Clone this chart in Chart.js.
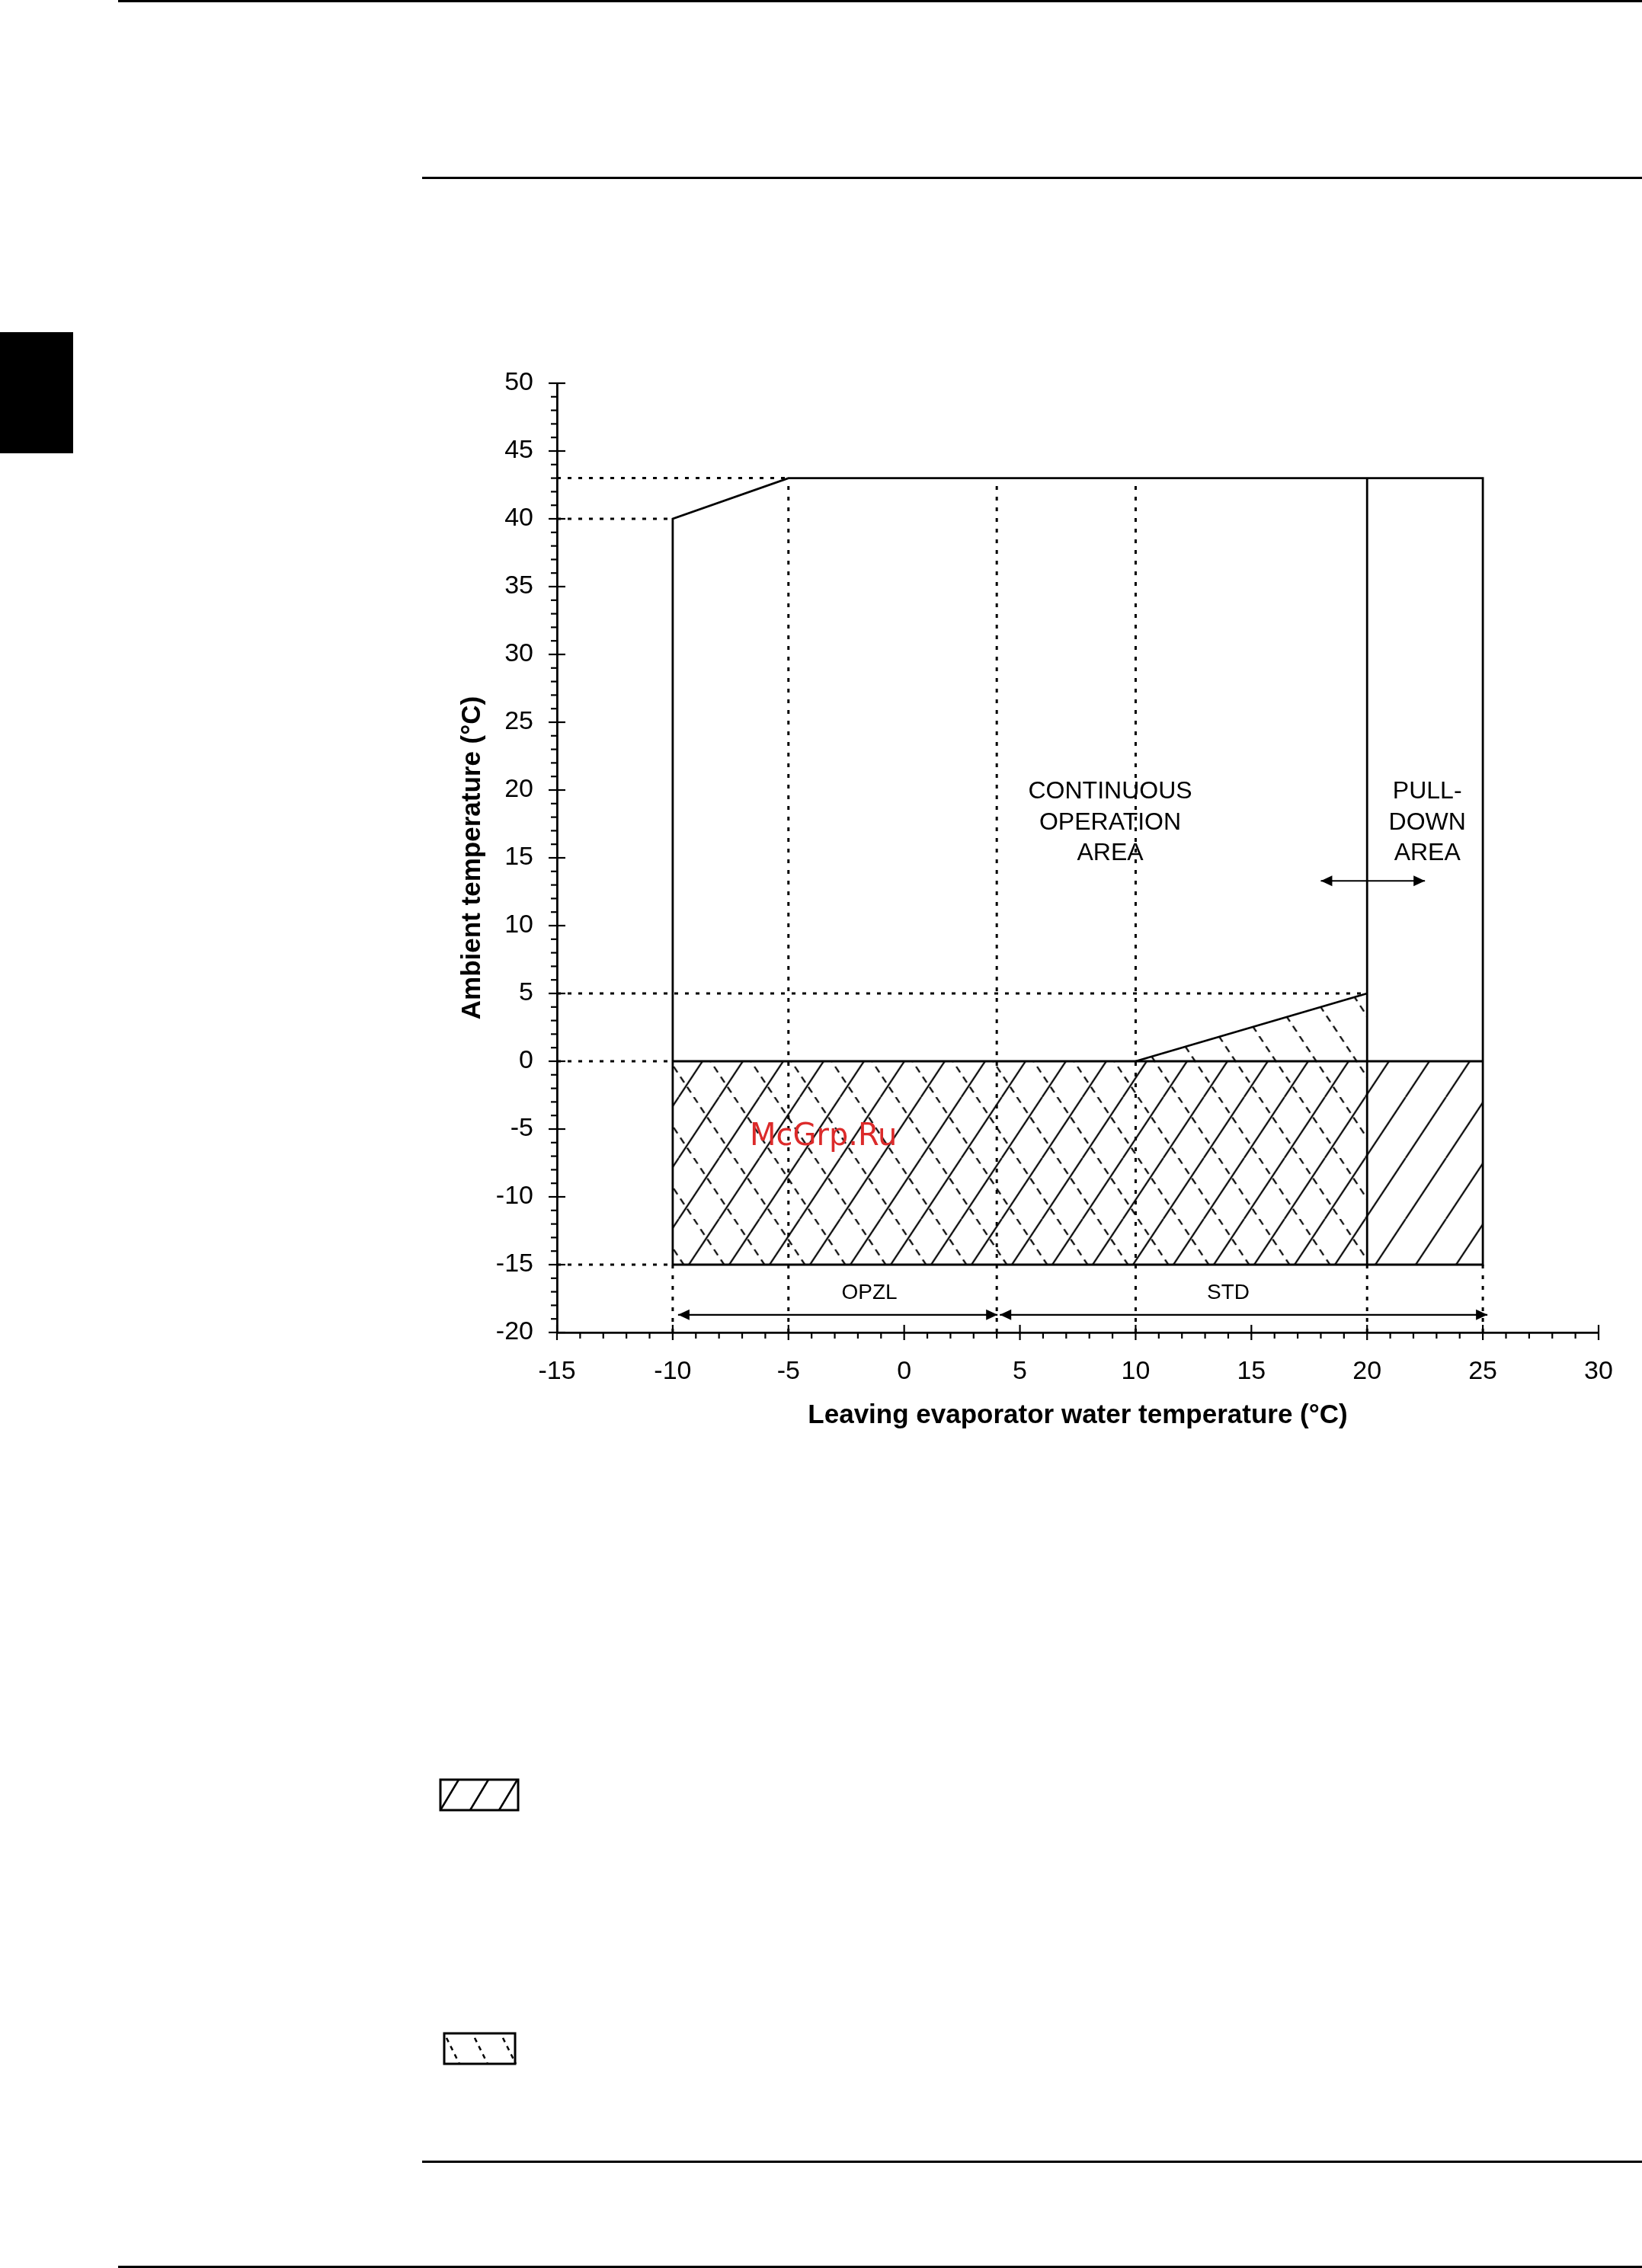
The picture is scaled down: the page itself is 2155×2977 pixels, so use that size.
<!DOCTYPE html>
<html>
<head>
<meta charset="utf-8">
<title>Operating limits</title>
<script src="https://cdn.jsdelivr.net/npm/chart.js@4.4.0/dist/chart.umd.min.js"></script>
<style>
    html, body { margin: 0; padding: 0; background: #fff; }
    body { width: 2155px; height: 2977px; position: relative; overflow: hidden; }
    #chart { position: absolute; left: 0; top: 0; }
    .rule { position: absolute; background: #000; }
</style>
</head>
<body>
<div class="rule" style="left:155px;top:0;width:2000px;height:3px"></div>
<div class="rule" style="left:554px;top:232px;width:1601px;height:3px"></div>
<div class="rule" style="left:0;top:436px;width:96px;height:159px"></div>
<div class="rule" style="left:554px;top:2836px;width:1601px;height:3px"></div>
<div class="rule" style="left:155px;top:2974px;width:2000px;height:3px"></div>
<canvas id="chart" width="2155" height="2977"></canvas>
<script>
const xTickValues = [-15, -10, -5, 0, 5, 10, 15, 20, 25, 30];
const yTickValues = [-20, -15, -10, -5, 0, 5, 10, 15, 20, 25, 30, 35, 40, 45, 50];

// operating envelope
const envelopeX = [-10, -10, -5, 25, 25, -10];
const envelopeY = [-15, 40, 43, 43, -15, -15];
const zeroLineX = [-10, 25];
const zeroLineY = [0, 0];
const pullDownX = [20, 20];
const pullDownY = [-15, 43];
const rampX = [10, 20];
const rampY = [0, 5];

// dotted guides
const guideHY = [43, 40, 5, 0, -15];
const guideHTo = [-5, -10, 20, -10, -10];
const guideVX = [-10, -5, 4, 10, 20, 25];
const guideVTo = [-15, 43, 43, 43, -15, -15];

// hatched zones, filled down to zoneFloor
const solidZoneX = [-10, 25];
const solidZoneY = [0, 0];
const dashedZoneX = [-10, 10, 20];
const dashedZoneY = [0, 0, 5];
const zoneFloor = -15;

// texts
const areaNames = [['CONTINUOUS', 'OPERATION', 'AREA'], ['PULL-', 'DOWN', 'AREA']];
const areaNameX = [8.9, 22.6];
const areaLineY = [19.9, 17.6, 15.3];
const rangeNames = ['OPZL', 'STD'];
const rangeFrom = [-10, 4];
const rangeTo = [4, 25];
const rangeNameX = [-1.5, 14];
const rangeNameY = -17.1;
const rangeArrowY = -18.7;
const pullArrowX = [18, 22.5];
const pullArrowY = 13.3;

const FONT = "'Liberation Sans', Arial, sans-serif";
const canvas = document.getElementById('chart');
const mainCtx = canvas.getContext('2d');

function pts(xs, ys) {
    return xs.map((x, i) => ({x: x, y: ys[i]}));
}

function hatchPattern(dashed, dx) {
    const w = 53, h = 80;
    const tile = document.createElement('canvas');
    tile.width = w;
    tile.height = h;
    const g = tile.getContext('2d');
    g.strokeStyle = '#000';
    g.lineWidth = 2.2;
    if (dashed) g.setLineDash([9, 7]);
    for (let k = -1; k <= 1; k++) {
        g.beginPath();
        if (dashed) {
            g.moveTo(k * w, 0);
            g.lineTo((k + 1) * w, h);
        } else {
            g.moveTo(k * w, h);
            g.lineTo((k + 1) * w, 0);
        }
        g.stroke();
    }
    const p = mainCtx.createPattern(tile, 'repeat');
    p.setTransform(new DOMMatrix([1, 0, 0, 1, dx, 0]));
    return p;
}

function solidLine(data, width) {
    return {data: data, borderColor: '#000', borderWidth: width, pointRadius: 0, fill: false, tension: 0};
}
function dottedLine(data) {
    const d = solidLine(data, 3);
    d.borderDash = [5, 9];
    return d;
}
function zone(data, pattern) {
    return {data: data, borderColor: 'transparent', borderWidth: 0, pointRadius: 0,
        backgroundColor: pattern, fill: {value: zoneFloor}, tension: 0};
}

const datasets = [
    solidLine(pts(envelopeX, envelopeY), 2.8),
    solidLine(pts(zeroLineX, zeroLineY), 3.2),
    solidLine(pts(pullDownX, pullDownY), 2.8),
    solidLine(pts(rampX, rampY), 2.8),
];
guideHY.forEach((v, i) => datasets.push(dottedLine([{x: -15, y: v}, {x: guideHTo[i], y: v}])));
guideVX.forEach((v, i) => datasets.push(dottedLine([{x: v, y: -20}, {x: v, y: guideVTo[i]}])));
datasets.push(zone(pts(dashedZoneX, dashedZoneY), hatchPattern(true, 9.6)));
datasets.push(zone(pts(solidZoneX, solidZoneY), hatchPattern(false, 42.7)));

function arrowHead(ctx, tipX, tipY, dir) {
    ctx.beginPath();
    ctx.moveTo(tipX, tipY);
    ctx.lineTo(tipX - dir * 15, tipY - 7);
    ctx.lineTo(tipX - dir * 15, tipY + 7);
    ctx.closePath();
    ctx.fill();
}

function swatch(ctx, x0, y0, w, h, dashed) {
    ctx.save();
    ctx.lineWidth = 2.5;
    if (dashed) {
        ctx.setLineDash([6, 6]);
        [0, 37, 74].forEach(o => {
            ctx.beginPath();
            ctx.moveTo(x0 + 3 + o, y0 + 6);
            ctx.lineTo(x0 + 20 + o, y0 + h);
            ctx.stroke();
        });
    } else {
        [0, 39, 77].forEach(o => {
            ctx.beginPath();
            ctx.moveTo(x0 + o, y0 + h);
            ctx.lineTo(x0 + 24 + o, y0);
            ctx.stroke();
        });
    }
    ctx.setLineDash([]);
    ctx.lineWidth = 3;
    ctx.strokeRect(x0, y0, w, h);
    ctx.restore();
}

const decor = {
    id: 'decor',
    afterDraw(chart) {
        const ctx = chart.ctx;
        const a = chart.chartArea;
        const x = chart.scales.x;
        const y = chart.scales.y;
        ctx.save();
        ctx.strokeStyle = '#000';
        ctx.fillStyle = '#000';
        ctx.lineWidth = 2.2;

        // tick marks, majors cross the axis, minors every degree
        for (let v = y.min; v <= y.max; v++) {
            const py = y.getPixelForValue(v);
            const major = yTickValues.includes(v);
            ctx.beginPath();
            ctx.moveTo(a.left - (major ? 11 : 8), py);
            ctx.lineTo(a.left + (major ? 11 : 0), py);
            ctx.stroke();
        }
        for (let v = x.min; v <= x.max; v++) {
            const px = x.getPixelForValue(v);
            const major = xTickValues.includes(v);
            ctx.beginPath();
            ctx.moveTo(px, a.bottom - (major ? 10 : 0));
            ctx.lineTo(px, a.bottom + (major ? 10 : 8));
            ctx.stroke();
        }

        // area names
        ctx.textAlign = 'center';
        ctx.textBaseline = 'middle';
        ctx.font = '32px ' + FONT;
        areaNames.forEach((lines, i) => {
            lines.forEach((t, j) => {
                ctx.fillText(t, x.getPixelForValue(areaNameX[i]), y.getPixelForValue(areaLineY[j]));
            });
        });

        // OPZL / STD ranges
        ctx.font = '28px ' + FONT;
        const ay = y.getPixelForValue(rangeArrowY);
        rangeNames.forEach((t, i) => {
            ctx.fillText(t, x.getPixelForValue(rangeNameX[i]), y.getPixelForValue(rangeNameY));
            const x0 = x.getPixelForValue(rangeFrom[i]) + (i === 0 ? 7 : 4);
            const x1 = x.getPixelForValue(rangeTo[i]) + (i === 0 ? 1 : 6);
            ctx.beginPath();
            ctx.moveTo(x0, ay);
            ctx.lineTo(x1, ay);
            ctx.stroke();
            arrowHead(ctx, x0, ay, -1);
            arrowHead(ctx, x1, ay, 1);
        });

        // pull-down double arrow
        const py = y.getPixelForValue(pullArrowY);
        const p0 = x.getPixelForValue(pullArrowX[0]);
        const p1 = x.getPixelForValue(pullArrowX[1]);
        ctx.beginPath();
        ctx.moveTo(p0, py);
        ctx.lineTo(p1, py);
        ctx.stroke();
        arrowHead(ctx, p0, py, -1);
        arrowHead(ctx, p1, py, 1);

        // legend swatches below the chart
        swatch(ctx, 578, 2336, 102, 40, false);
        swatch(ctx, 583, 2669, 93, 40, true);

        // watermark
        ctx.textAlign = 'left';
        ctx.textBaseline = 'alphabetic';
        ctx.fillStyle = '#dc2a2a';
        ctx.font = "40px 'DejaVu Sans', sans-serif";
        ctx.fillText('McGrp.Ru', 984, 1503);
        ctx.restore();
    }
};

Chart.defaults.font.family = FONT;
Chart.defaults.color = '#000';

new Chart(canvas, {
    type: 'line',
    data: {datasets: datasets},
    plugins: [decor],
    options: {
        responsive: false,
        animation: false,
        devicePixelRatio: 1,
        clip: false,
        layout: {padding: {left: 580, top: 503, right: 57, bottom: 1078}},
        plugins: {legend: {display: false}, tooltip: {enabled: false}},
        scales: {
            x: {
                type: 'linear',
                min: -15,
                max: 30,
                afterBuildTicks: (s) => { s.ticks = xTickValues.map(v => ({value: v})); },
                afterFit: (s) => { s.height = 150; s.paddingLeft = 0; s.paddingRight = 0; },
                grid: {display: false, drawTicks: false},
                border: {display: true, color: '#000', width: 2.8},
                ticks: {padding: 31, autoSkip: false, maxRotation: 0, font: {size: 34}, color: '#000'},
                title: {
                    display: true,
                    text: 'Leaving evaporator water temperature (°C)',
                    font: {size: 35, weight: 'bold'},
                    color: '#000',
                    padding: {top: 0, bottom: 20}
                }
            },
            y: {
                type: 'linear',
                min: -20,
                max: 50,
                afterBuildTicks: (s) => { s.ticks = yTickValues.map(v => ({value: v})); },
                afterFit: (s) => { s.width = 151; s.paddingTop = 0; s.paddingBottom = 0; },
                grid: {display: false, drawTicks: false},
                border: {display: true, color: '#000', width: 2.8},
                ticks: {padding: 31, autoSkip: false, font: {size: 34}, color: '#000'},
                title: {
                    display: true,
                    text: 'Ambient temperature (°C)',
                    font: {size: 35, weight: 'bold'},
                    color: '#000',
                    padding: {top: 19.5, bottom: 0}
                }
            }
        }
    }
});
</script>
</body>
</html>
